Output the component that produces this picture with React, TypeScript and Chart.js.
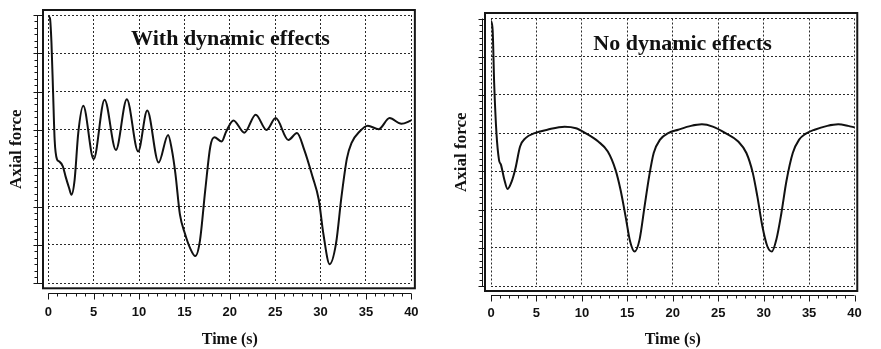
import React, { useEffect, useRef } from 'react';
import { Chart, registerables } from 'chart.js';

Chart.register(...registerables);

// ---- data ----
const timeWith = [0, 0.18, 0.35, 0.53, 0.7, 0.95, 1.2, 1.6, 1.9, 2.3, 2.55, 2.9, 3.3, 3.85, 5.0, 6.2, 7.45, 8.65, 9.9, 10.9, 12.15, 13.2, 13.6, 14.0, 14.5, 15.05, 15.6, 16.2, 16.7, 17.3, 17.85, 18.3, 19.1, 19.6, 20.4, 21.6, 22.85, 24.05, 25.05, 26.45, 27.4, 28.2, 29.1, 29.8, 30.3, 31.0, 31.7, 32.3, 32.9, 33.4, 34.3, 35.2, 36.4, 37.6, 38.9, 40];
const forceWith = [6.96, 6.92, 6.27, 4.96, 3.74, 3.24, 3.18, 3.05, 2.79, 2.48, 2.31, 2.7, 3.92, 4.63, 3.24, 4.79, 3.48, 4.8, 3.44, 4.51, 3.15, 3.87, 3.5, 2.87, 1.8, 1.3, 0.93, 0.71, 1.1, 2.45, 3.57, 3.81, 3.7, 3.96, 4.25, 3.93, 4.4, 4.0, 4.31, 3.74, 3.92, 3.48, 2.79, 2.18, 1.3, 0.5, 1.04, 2.26, 3.26, 3.66, 3.96, 4.11, 4.02, 4.31, 4.16, 4.25];

const timeNo = [0, 0.18, 0.35, 0.6, 0.88, 1.1, 1.47, 1.82, 2.28, 2.7, 3.2, 3.8, 4.8, 6.2, 8.1, 9.35, 10.4, 11.8, 12.85, 13.7, 14.25, 14.8, 15.3, 15.8, 16.35, 16.9, 17.4, 17.9, 18.6, 19.5, 20.6, 22.0, 23.2, 24.4, 25.8, 27.2, 28.1, 28.8, 29.3, 29.85, 30.4, 30.9, 31.4, 31.95, 32.5, 33.2, 33.9, 34.6, 35.6, 37.0, 38.2, 39.3, 40];
const forceNo = [6.94, 6.7, 5.3, 4.0, 3.3, 3.17, 2.78, 2.54, 2.74, 3.09, 3.65, 3.87, 4.0, 4.09, 4.17, 4.13, 4.0, 3.78, 3.52, 3.04, 2.52, 1.83, 1.17, 0.9, 1.22, 2.09, 2.87, 3.48, 3.83, 4.0, 4.09, 4.19, 4.23, 4.17, 4.0, 3.78, 3.48, 2.96, 2.35, 1.57, 1.04, 0.9, 1.22, 1.91, 2.74, 3.48, 3.83, 3.98, 4.09, 4.19, 4.23, 4.19, 4.15];

const X_MIN = 0;
const X_MAX = 40;
const X_STEP = 5;
const X_MINOR = 1;
const Y_MIN = 0;
const Y_MAX = 7;
const Y_STEP = 1;
const Y_MINOR = 1 / 6;

const TITLE_WITH = 'With dynamic effects';
const TITLE_NO = 'No dynamic effects';
const X_TITLE = 'Time (s)';
const Y_TITLE = 'Axial force';

type Panel = {
  left: number;
  width: number;
  areaLeft: number;
  areaRight: number;
  areaTop: number;
  areaBottom: number;
  frame: { l: number; r: number; t: number; b: number };
  yAxisGap: number;
  xAxisGap: number;
  yTitlePad: number;
  tickPad: number;
  titleX: number;
  titleY: number;
};

const H = 349;

const framePlugin = {
  id: 'frameDeco',
  afterDraw(chart: any, _args: any, opts: any) {
    const { ctx, chartArea: ca, scales } = chart;
    const x = scales.x;
    const y = scales.y;
    const f = opts.frame;
    ctx.save();
    ctx.strokeStyle = '#151515';
    // frame
    ctx.lineWidth = 2;
    ctx.strokeRect(ca.left - f.l, ca.top - f.t, ca.width + f.l + f.r, ca.height + f.t + f.b);
    ctx.lineWidth = 1;
    // y axis line with ticks
    const ax = Math.round(ca.left - opts.yAxisGap) + 0.5;
    const y0 = y.getPixelForValue(Y_MIN);
    const y1 = y.getPixelForValue(Y_MAX);
    ctx.beginPath();
    ctx.moveTo(ax, y0);
    ctx.lineTo(ax, y1);
    const nMinorY = Math.round((Y_MAX - Y_MIN) / Y_MINOR);
    for (let i = 0; i <= nMinorY; i++) {
      const v = Y_MIN + i * Y_MINOR;
      const py = Math.round(y.getPixelForValue(v)) + 0.5;
      const major = Math.abs(v / Y_STEP - Math.round(v / Y_STEP)) < 1e-6;
      if (major) {
        ctx.moveTo(ax - 4, py);
        ctx.lineTo(ca.left - f.l, py);
      } else {
        ctx.moveTo(ax - 3, py);
        ctx.lineTo(ax, py);
      }
    }
    // x axis line with ticks
    const ay = Math.round(ca.bottom + opts.xAxisGap) + 0.5;
    const x0 = x.getPixelForValue(X_MIN);
    const x1 = x.getPixelForValue(X_MAX);
    ctx.moveTo(x0, ay);
    ctx.lineTo(x1, ay);
    const nMinorX = Math.round((X_MAX - X_MIN) / X_MINOR);
    for (let i = 0; i <= nMinorX; i++) {
      const v = X_MIN + i * X_MINOR;
      const px = Math.round(x.getPixelForValue(v)) + 0.5;
      const major = v % X_STEP === 0;
      ctx.moveTo(px, ay);
      ctx.lineTo(px, ay + (major ? 6 : 3));
    }
    ctx.stroke();
    ctx.restore();
  },
};

function ChartPanel({ panel, times, forces, title }: { panel: Panel; times: number[]; forces: number[]; title: string }) {
  const ref = useRef<HTMLCanvasElement | null>(null);
  useEffect(() => {
    if (!ref.current) return;
    const points = times.map((t, i) => ({ x: t, y: forces[i] }));
    const gridColor = '#2a2a2a';
    const chart = new Chart(ref.current, {
      type: 'line',
      data: {
        datasets: [
          {
            data: points,
            borderColor: '#111111',
            borderWidth: 2,
            pointRadius: 0,
            fill: false,
            cubicInterpolationMode: 'monotone',
          },
        ],
      },
      options: {
        responsive: false,
        animation: false,
        events: [],
        layout: {
          padding: {
            left: 0,
            right: panel.width - panel.areaRight,
            top: panel.areaTop,
            bottom: 0,
          },
        },
        plugins: {
          legend: { display: false },
          tooltip: { enabled: false },
          title: { display: false },
          frameDeco: {
            frame: panel.frame,
            yAxisGap: panel.yAxisGap,
            xAxisGap: panel.xAxisGap,
          },
        } as any,
        scales: {
          x: {
            type: 'linear',
            min: X_MIN,
            max: X_MAX,
            ticks: {
              stepSize: X_STEP,
              color: '#111',
              padding: panel.tickPad,
              maxRotation: 0,
              autoSkip: false,
              font: { family: '"Liberation Sans", Arial, sans-serif', size: 13, weight: 'bold' },
            },
            grid: { color: gridColor, lineWidth: 1, drawTicks: false },
            border: { display: false, dash: [2, 2] },
            title: {
              display: true,
              text: X_TITLE,
              color: '#111',
              padding: { top: 0, bottom: 0 },
              font: { family: '"Liberation Serif", "Times New Roman", serif', size: 16, weight: 'bold' },
            },
            afterFit: (s: any) => {
              s.height = H - panel.areaBottom;
            },
          },
          y: {
            type: 'linear',
            min: Y_MIN,
            max: Y_MAX,
            ticks: { stepSize: Y_STEP, display: false },
            grid: { color: gridColor, lineWidth: 1, drawTicks: false },
            border: { display: false, dash: [2, 2] },
            title: {
              display: true,
              text: Y_TITLE,
              color: '#111',
              padding: { top: panel.yTitlePad, bottom: 0 },
              font: { family: '"Liberation Serif", "Times New Roman", serif', size: 17, weight: 'bold' },
            },
            afterFit: (s: any) => {
              s.width = panel.areaLeft;
            },
          },
        },
      } as any,
      plugins: [framePlugin as any],
    });
    return () => chart.destroy();
  }, [panel, times, forces]);

  return (
    <div style={{ position: 'absolute', left: panel.left, top: 0, width: panel.width, height: H }}>
      <canvas ref={ref} width={panel.width} height={H} style={{ width: panel.width, height: H, display: 'block' }} />
      <div
        style={{
          position: 'absolute',
          left: panel.titleX,
          top: panel.titleY,
          transform: 'translate(-50%, -50%)',
          whiteSpace: 'nowrap',
          font: 'bold 22px "Liberation Serif", "Times New Roman", serif',
          color: '#111',
          lineHeight: 1,
        }}
      >
        {title}
      </div>
    </div>
  );
}

const leftPanel: Panel = {
  left: 0,
  width: 440,
  areaLeft: 48.3,
  areaRight: 429,
  areaTop: 15,
  areaBottom: 283.3,
  frame: { l: 5.3, r: 3.5, t: 5, b: 5 },
  yAxisGap: 11,
  xAxisGap: 9.5,
  yTitlePad: 6,
  tickPad: 21.4,
  titleX: 230.5,
  titleY: 38,
};

const rightPanel: Panel = {
  left: 440,
  width: 441,
  areaLeft: 51,
  areaRight: 431.3,
  areaTop: 18.5,
  areaBottom: 286,
  frame: { l: 6, r: 2.7, t: 5.5, b: 5 },
  yAxisGap: 9.5,
  xAxisGap: 8.5,
  yTitlePad: 11.5,
  tickPad: 19.2,
  titleX: 242.5,
  titleY: 43,
};

export default function App() {
  return (
    <div style={{ position: 'absolute', left: 0, top: 0, width: 881, height: H, background: '#fff', overflow: 'hidden' }}>
      <ChartPanel panel={leftPanel} times={timeWith} forces={forceWith} title={TITLE_WITH} />
      <ChartPanel panel={rightPanel} times={timeNo} forces={forceNo} title={TITLE_NO} />
    </div>
  );
}
